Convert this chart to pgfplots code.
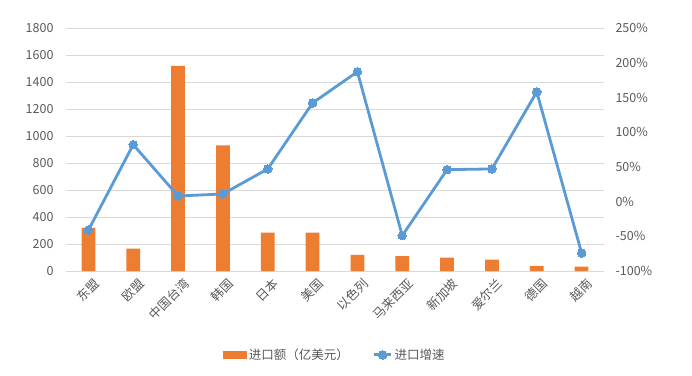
\documentclass[border=0pt]{standalone}
\usepackage{fontspec}
\setmainfont{Noto Sans CJK SC}
\usepackage{pgfplots}
\pgfplotsset{compat=1.18}
\definecolor{barorange}{HTML}{ED7D31}
\definecolor{lineblue}{HTML}{5B9BD5}
\definecolor{gridgray}{HTML}{D9D9D9}
\definecolor{textgray}{HTML}{595959}
\begin{document}
\begin{tikzpicture}
\pgfplotsset{
  common/.style={
    scale only axis, width=538pt, height=243pt,
    xmin=-0.5, xmax=11.5,
    axis line style={draw=none},
    major tick length=0pt,
    /pgf/number format/assume math mode=true,
    /pgf/number format/1000 sep={},
    tick label style={font=\fontsize{12.5}{14}\selectfont, text=textgray},
  }
}
\begin{axis}[common,
  ymin=0, ymax=1800, ytick={0,200,...,1800},
  ymajorgrids, grid style={gridgray, line width=0.9pt},
  xtick={0,...,11},
  xticklabels={东盟,欧盟,中国台湾,韩国,日本,美国,以色列,马来西亚,新加坡,爱尔兰,德国,越南},
  x tick label style={rotate=45, anchor=north east, yshift=-4pt, xshift=2pt},
  yticklabel style={xshift=-9pt},
]
\addplot[ybar, bar width=13.7pt, bar shift=0pt, fill=barorange, draw=none]
coordinates {(0,320) (1,165) (2,1520) (3,930) (4,285) (5,285) (6,120) (7,110) (8,100) (9,84) (10,38) (11,32)};
\end{axis}
\begin{axis}[common,
  ymin=-100, ymax=250, ytick={-100,-50,...,250},
  axis y line*=right,
  hide x axis,
  yticklabel={\pgfmathprintnumber{\tick}\%},
  yticklabel style={xshift=8pt},
  legend style={at={(0.5,-0.345)}, anchor=center, draw=none, fill=none,
    legend columns=2, font=\fontsize{12.5}{14}\selectfont, text=textgray,
    /tikz/every even column/.append style={column sep=22pt}},
]
\addlegendimage{legend image code/.code={\fill[barorange] (0pt,-3.5pt) rectangle (23pt,3.5pt);}}
\addlegendentry{进口额（亿美元）}
\addplot[lineblue, line width=2.8pt, mark=*, mark size=4.3pt, mark options={fill=lineblue, draw=lineblue, line width=0pt}]
coordinates {(0,-41) (1,82) (2,8) (3,11) (4,47) (5,142) (6,187) (7,-49) (8,46) (9,47) (10,158) (11,-74)};
\addlegendentry{进口增速}
\end{axis}
\useasboundingbox (current axis.south west) ++(-66pt,-104pt) rectangle ++(692pt,375pt);
\end{tikzpicture}
\end{document}
